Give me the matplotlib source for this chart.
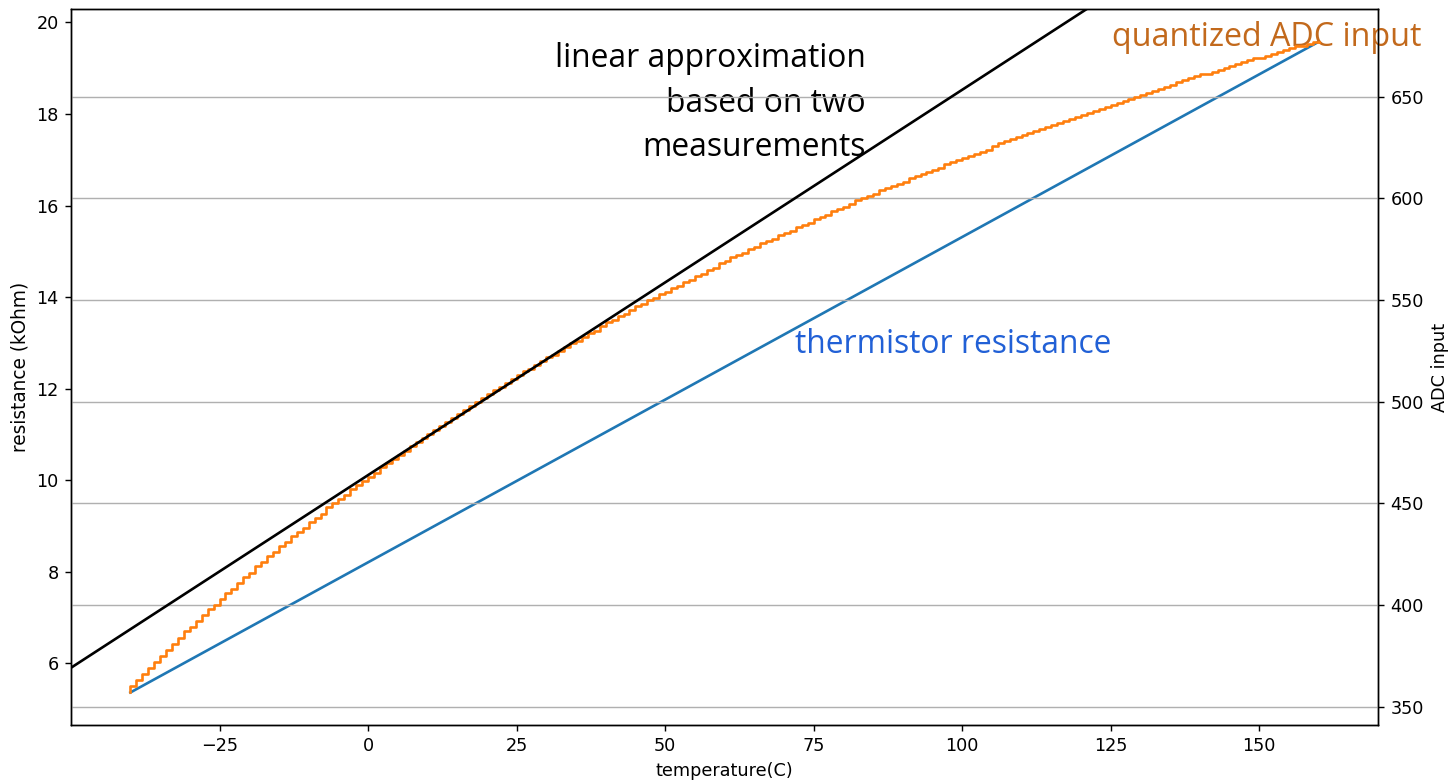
import matplotlib
matplotlib.use("Agg")
import matplotlib.pyplot as plt

# temperature sweep (C)
temperature = list(range(-40, 161))

# thermistor resistance, linear (kOhm), end points
res_temp = [-40, 160]
resistance = [5.365, 19.575]

# quantized ADC reading, one per degree
adc_input = [
    357, 360, 363, 366, 369, 372, 375, 378, 381, 384, 387,
    389, 392, 395, 398, 400, 403, 406, 408, 411, 414,
    416, 419, 421, 424, 426, 429, 431, 434, 436, 438,
    441, 443, 445, 448, 450, 452, 454, 457, 459, 461,
    463, 465, 468, 470, 472, 474, 476, 478, 480, 482,
    484, 486, 488, 490, 492, 494, 496, 498, 500, 502,
    504, 506, 507, 509, 511, 513, 515, 516, 518, 520,
    522, 523, 525, 527, 529, 530, 532, 534, 535, 537,
    539, 540, 542, 543, 545, 547, 548, 550, 551, 553,
    554, 556, 557, 559, 560, 562, 563, 565, 566, 568,
    569, 571, 572, 573, 575, 576, 578, 579, 580, 582,
    583, 584, 586, 587, 588, 590, 591, 592, 594, 595,
    596, 597, 599, 600, 601, 602, 604, 605, 606, 607,
    608, 610, 611, 612, 613, 614, 615, 617, 618, 619,
    620, 621, 622, 623, 624, 626, 627, 628, 629, 630,
    631, 632, 633, 634, 635, 636, 637, 638, 639, 640,
    641, 642, 643, 644, 645, 646, 647, 648, 649, 650,
    651, 652, 653, 654, 655, 656, 657, 658, 659, 660,
    661, 661, 662, 663, 664, 665, 666, 667, 668, 669,
    669, 670, 671, 672, 673, 674, 675, 675, 676, 677,
]

# linear approximation from two measurements (temperature, ADC)
approx_temp = [0, 100]
approx_adc = [463.9, 653.4]

fig, ax = plt.subplots(figsize=(1452 / 127, 781 / 127), dpi=127)
fig.subplots_adjust(left=71 / 1452, right=1378 / 1452, top=1 - 9.3 / 781, bottom=1 - 725 / 781)

ax.plot(res_temp, resistance, color="#1f77b4")
ax.set_xlabel("temperature(C)")
ax.set_ylabel("resistance (kOhm)", fontsize=10.5)
ax.set_xlim(-50, 170)
ax.set_xticks([-25, 0, 25, 50, 75, 100, 125, 150])
ax.set_yticks([6, 8, 10, 12, 14, 16, 18, 20])

ax2 = ax.twinx()
ax2.step(temperature, adc_input, color="#ff7f0e")
ax2.axline((approx_temp[0], approx_adc[0]), (approx_temp[1], approx_adc[1]), color="black")
ax2.set_ylabel("ADC input")
ax2.set_yticks([350, 400, 450, 500, 550, 600, 650])
ax2.grid(True, axis="y")
lo, hi = min(adc_input), max(adc_input)
ax2.set_ylim(lo - 0.05 * (hi - lo), hi + 0.05 * (hi - lo))
ax2.set_xlim(-50, 170)

label_font = ["Open Sans", "DejaVu Sans"]
ax.text(0.608, 0.869, "linear approximation\nbased on two\nmeasurements",
        transform=ax.transAxes, ha="right", va="center", fontsize=18,
        family=label_font, color="black", linespacing=1.47)
ax.text(0.554, 0.531, "thermistor resistance", transform=ax.transAxes,
        ha="left", va="center", fontsize=18, family=label_font, color="#2160d6")
ax.text(0.7965, 0.961, "quantized ADC input", transform=ax.transAxes,
        ha="left", va="center", fontsize=18.3, family=label_font, color="#c2691c")

fig.savefig("out.png", dpi=127)
